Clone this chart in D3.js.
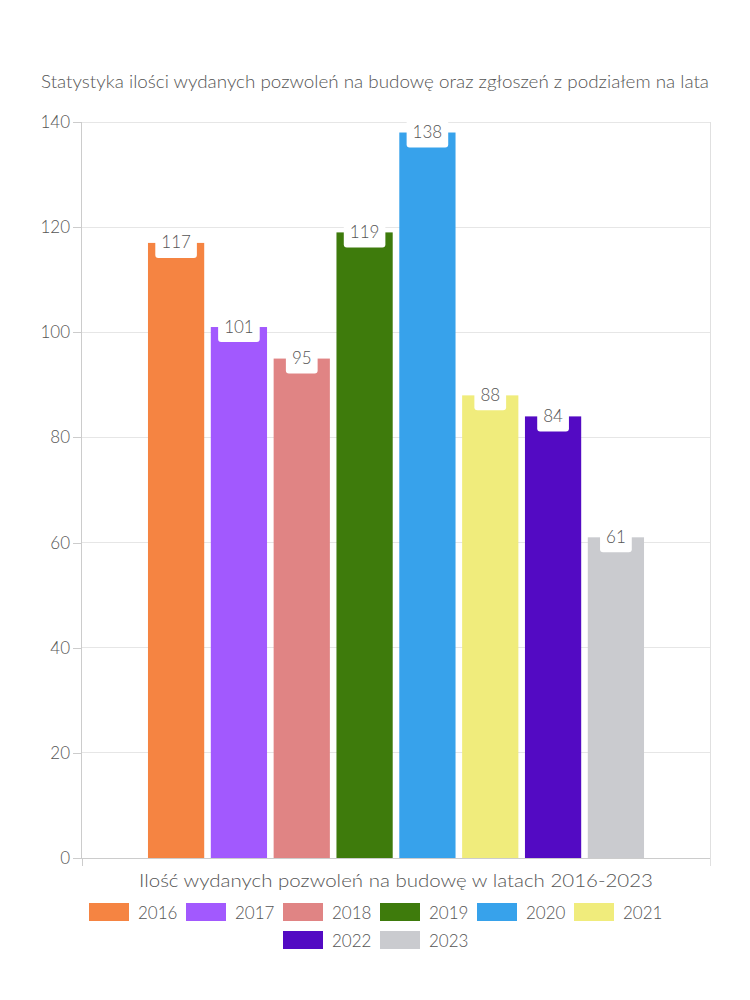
<!DOCTYPE html>
<html>
<head>
<meta charset="utf-8">
<script src="https://cdn.jsdelivr.net/npm/d3@7"></script>
<style>
  html, body { margin: 0; padding: 0; background: #fff; }
  svg { display: block; }
  text { font-family: Lato, "Noto Sans", sans-serif; fill: #555; font-weight: 300; }
</style>
</head>
<body>
<svg id="chart" width="750" height="1000"></svg>
<script>
// ---- data ----
const years = ["2016", "2017", "2018", "2019", "2020", "2021", "2022", "2023"];
const values = [117, 101, 95, 119, 138, 88, 84, 61];
const colors = ["#f58442", "#a259fe", "#e08484", "#3e7b0c", "#37a2eb", "#f0ec7c", "#530ac3", "#cacbcf"];
const yTicks = [0, 20, 40, 60, 80, 100, 120, 140];
const title = "Statystyka ilości wydanych pozwoleń na budowę oraz zgłoszeń z podziałem na lata";
const xAxisName = "Ilość wydanych pozwoleń na budowę w latach 2016-2023";

(function () {
const svg = d3.select("#chart");
const W = 750;
const pLeft = 82, pRight = 710, pTop = 122, pBottom = 858;

const y = d3.scaleLinear().domain([0, 140]).range([pBottom, pTop]);
const xOuter = d3.scaleBand().domain(["all"]).range([pLeft, pRight]).paddingOuter(0.133).paddingInner(0);
const xInner = d3.scaleBand().domain(years).range([0, xOuter.bandwidth()]).paddingInner(0.105).paddingOuter(0);

// title
svg.append("text")
  .attr("x", W / 2).attr("y", 81)
  .attr("text-anchor", "middle").attr("dominant-baseline", "central")
  .style("font-size", "17px")
  .attr("textLength", 668).attr("lengthAdjust", "spacingAndGlyphs")
  .text(title);

// gridlines
svg.append("g").selectAll("line").data(yTicks.filter(d => d > 0)).join("line")
  .attr("x1", pLeft).attr("x2", pRight)
  .attr("y1", d => y(d)).attr("y2", d => y(d))
  .attr("stroke", "#e6e6e6").attr("stroke-width", 1).attr("shape-rendering", "crispEdges");

// y axis
const yAxis = d3.axisLeft(y).tickValues(yTicks).tickSize(9).tickPadding(3);
const gy = svg.append("g").attr("transform", `translate(${pLeft},0)`).call(yAxis);
gy.select(".domain").attr("stroke", "#ccc").attr("d", `M-0.5,${pBottom}V${pTop}`);
gy.selectAll(".tick line").attr("stroke", "#ccc").attr("shape-rendering", "crispEdges");
gy.selectAll(".tick text").style("font-size", "17px").style("font-family", "Lato, 'Noto Sans', sans-serif").style("font-weight", 300).attr("fill", "#555");
gy.selectAll(".tick text").attr("x", -12);

// right vertical border line and category tick marks
svg.append("line").attr("x1", pRight).attr("x2", pRight).attr("y1", pTop).attr("y2", pBottom + 8)
  .attr("stroke", "#e0e0e0").attr("shape-rendering", "crispEdges");
svg.append("line").attr("x1", pLeft).attr("x2", pLeft).attr("y1", pBottom).attr("y2", pBottom + 8)
  .attr("stroke", "#ccc").attr("shape-rendering", "crispEdges");

// bars
const barG = svg.append("g");
barG.selectAll("rect").data(years).join("rect")
  .attr("x", (d) => xOuter("all") + xInner(d))
  .attr("width", xInner.bandwidth())
  .attr("y", (d, i) => y(values[i]))
  .attr("height", (d, i) => pBottom - y(values[i]))
  .attr("fill", (d, i) => colors[i]);

// x axis baseline
svg.append("line").attr("x1", pLeft).attr("x2", pRight).attr("y1", pBottom).attr("y2", pBottom)
  .attr("stroke", "#ccc").attr("shape-rendering", "crispEdges");

// labels
const lab = svg.append("g").selectAll("g").data(years).join("g")
  .attr("transform", (d, i) => `translate(${xOuter("all") + xInner(d) + xInner.bandwidth() / 2},${y(values[i])})`);
lab.each(function (d, i) {
  const g = d3.select(this);
  const t = g.append("text")
    .attr("text-anchor", "middle").attr("dominant-baseline", "central")
    .attr("y", -1)
    .style("font-size", "17px")
    .text(values[i]);
  const w = t.node().getComputedTextLength();
  g.insert("rect", "text")
    .attr("x", -w / 2 - 6).attr("width", w + 12)
    .attr("y", -15).attr("height", 30)
    .attr("rx", 3).attr("fill", "#fff");
});

// x axis name
svg.append("text")
  .attr("x", (pLeft + pRight) / 2).attr("y", 880)
  .attr("text-anchor", "middle").attr("dominant-baseline", "central")
  .style("font-size", "18px")
  .attr("textLength", 514).attr("lengthAdjust", "spacingAndGlyphs")
  .text(xAxisName);

// legend
const rows = [years.slice(0, 6), years.slice(6)];
const step = 97, sw = 40, sh = 18;
rows.forEach((row, r) => {
  const rowW = row.length * step - 10;
  const x0 = W / 2 - rowW / 2;
  const cy = 912 + r * 28;
  const g = svg.append("g");
  row.forEach((yr, j) => {
    const idx = years.indexOf(yr);
    const gx = x0 + j * step;
    g.append("rect").attr("x", gx).attr("y", cy - sh / 2).attr("width", sw).attr("height", sh)
      .attr("fill", colors[idx]);
    g.append("text").attr("x", gx + sw + 9).attr("y", cy)
      .attr("dominant-baseline", "central").style("font-size", "17px").text(yr);
  });
});
})();
</script>
</body>
</html>
